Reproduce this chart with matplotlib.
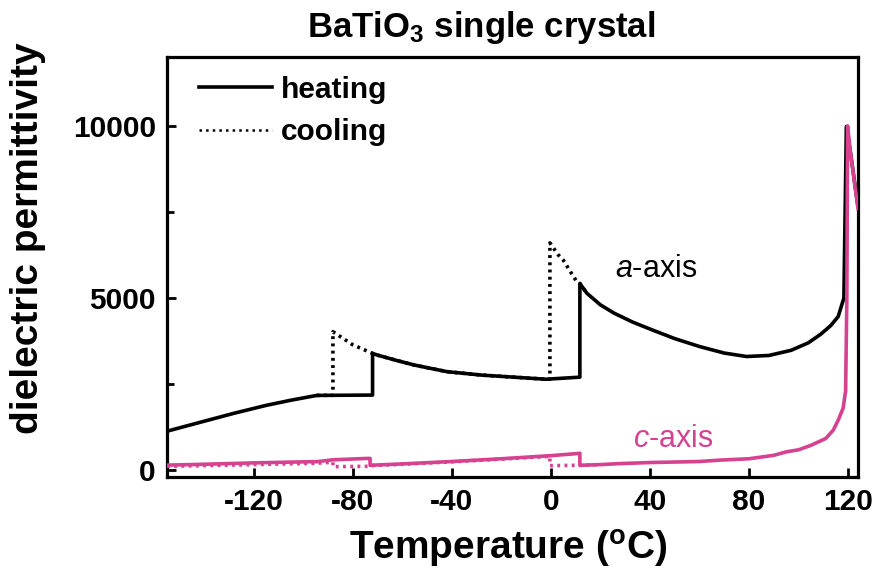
import matplotlib
matplotlib.use("Agg")
import matplotlib.pyplot as plt
from matplotlib.ticker import MultipleLocator

plt.rcParams['font.family'] = ['Liberation Sans', 'DejaVu Sans']
plt.rcParams['mathtext.fontset'] = 'custom'
plt.rcParams['mathtext.rm'] = 'Liberation Sans'
plt.rcParams['mathtext.it'] = 'Liberation Sans:italic'
plt.rcParams['mathtext.bf'] = 'Liberation Sans:bold'

# ---- data ----
a_heat_T = [-155, -140, -128, -115, -105, -94.5, -72, -72, -70, -62, -55, -42, -28, -15, -2, 11.7, 11.7,
            14.5, 20, 25.5, 33, 41, 50, 60, 70, 79, 88, 97, 104, 109, 113, 116, 118.3, 119.3, 121, 124]
a_heat_eps = [1130, 1420, 1650, 1880, 2030, 2170, 2180, 3390, 3340, 3180, 3050, 2860, 2760, 2700, 2640, 2700, 5420,
              5140, 4800, 4560, 4300, 4070, 3820, 3590, 3400, 3300, 3330, 3480, 3700, 3950, 4200, 4460, 5000, 9980, 9200, 7650]

a_cool_T = [-94.5, -88, -88, -80, -72, -70, -62, -55, -42, -28, -15, -2, -0.4, -0.4, 3, 5, 8, 10.4, 11.7, 14.5]
a_cool_eps = [2170, 2175, 4020, 3640, 3390, 3340, 3180, 3050, 2860, 2760, 2700, 2640, 2640, 6600, 6250, 6100, 5750, 5480, 5420, 5140]

c_heat_T = [-155, -140, -120, -100, -94.5, -88, -74, -73, -73, -60, -40, -20, 0, 10.5, 11.7, 11.7,
            20, 28, 40, 60, 68, 80, 90, 95, 100, 105, 111, 114, 116, 118, 119, 119.5, 119.8, 121, 124]
c_heat_eps = [145, 170, 210, 240, 245, 300, 340, 340, 140, 180, 250, 330, 420, 480, 490, 140,
              160, 190, 220, 250, 290, 330, 430, 530, 590, 720, 920, 1160, 1450, 1800, 2300, 5000, 10000, 9200, 7600]

c_cool_T = [-155, -120, -94.5, -88, -88, -74, -73, -60, -40, -20, -0.4, -0.4, 5, 11.7, 20]
c_cool_eps = [110, 160, 200, 230, 100, 110, 130, 170, 240, 320, 400, 130, 135, 140, 160]

x_ticks = [-120, -80, -40, 0, 40, 80, 120]
y_ticks = [0, 5000, 10000]

black = '#000000'
pink = '#D6428F'

fig = plt.figure(figsize=(8.76, 5.83), dpi=100)
ax = fig.add_axes([167/876, 1 - 477/583, (858 - 167)/876, (477 - 57)/583])

lw = 2.6
ax.plot(a_cool_T, a_cool_eps, color=black, lw=lw, ls=(0, (0.8, 1.2)), zorder=2)
ax.plot(a_heat_T, a_heat_eps, color=black, lw=lw, ls='-', zorder=3)
ax.plot(c_cool_T, c_cool_eps, color=pink, lw=lw, ls=(0, (0.8, 1.2)), zorder=4)
ax.plot(c_heat_T, c_heat_eps, color=pink, lw=lw, ls='-', zorder=5)

# legend handles (black)
h1, = ax.plot([], [], color=black, lw=lw, ls='-')
h2, = ax.plot([], [], color=black, lw=1.8, ls=':')
ax.legend([h1, h2], ['heating', 'cooling'], loc='upper left', frameon=False,
          bbox_to_anchor=(0.046, 0.955), borderpad=0, borderaxespad=0,
          handlelength=2.45, handletextpad=0.3, labelspacing=0.48,
          prop={'weight': 'bold', 'size': 21.5})

ax.set_xlim(-155, 124)
ax.set_ylim(-200, 12000)
ax.set_xticks(x_ticks)
ax.set_xticklabels([str(v) for v in x_ticks])
ax.set_yticks(y_ticks)
ax.set_yticklabels([str(v) for v in y_ticks])
ax.yaxis.set_minor_locator(MultipleLocator(2500))

for lab in ax.get_xticklabels() + ax.get_yticklabels():
    lab.set_fontweight('bold')
    lab.set_fontsize(21.5)

ax.tick_params(which='major', direction='in', length=6.5, width=2.0, pad=8)
ax.tick_params(which='minor', direction='in', length=5, width=2.0)
ax.tick_params(axis='x', which='minor', bottom=False)
for s in ax.spines.values():
    s.set_linewidth(2.3)

ax.text(26, 5610, r'$a$-axis', fontsize=22, color=black, ha='left', va='baseline')
ax.text(33, 670, r'$c$-axis', fontsize=22, color=pink, ha='left', va='baseline')

fig.text(481/876, 1 - 37/583, r'BaTiO$_\mathregular{3}$ single crystal', fontsize=25,
         fontweight='bold', ha='center', va='baseline')
fig.text(508/876, 1 - 560/583, r'Temperature ($^\mathbf{o}$C)', fontsize=28,
         fontweight='bold', ha='center', va='baseline')
fig.text(28/876, 1 - 238/583, 'dielectric permittivity', fontsize=28, fontweight='bold',
         rotation=90, ha='center', va='center')

fig.savefig('out.png', dpi=100)
